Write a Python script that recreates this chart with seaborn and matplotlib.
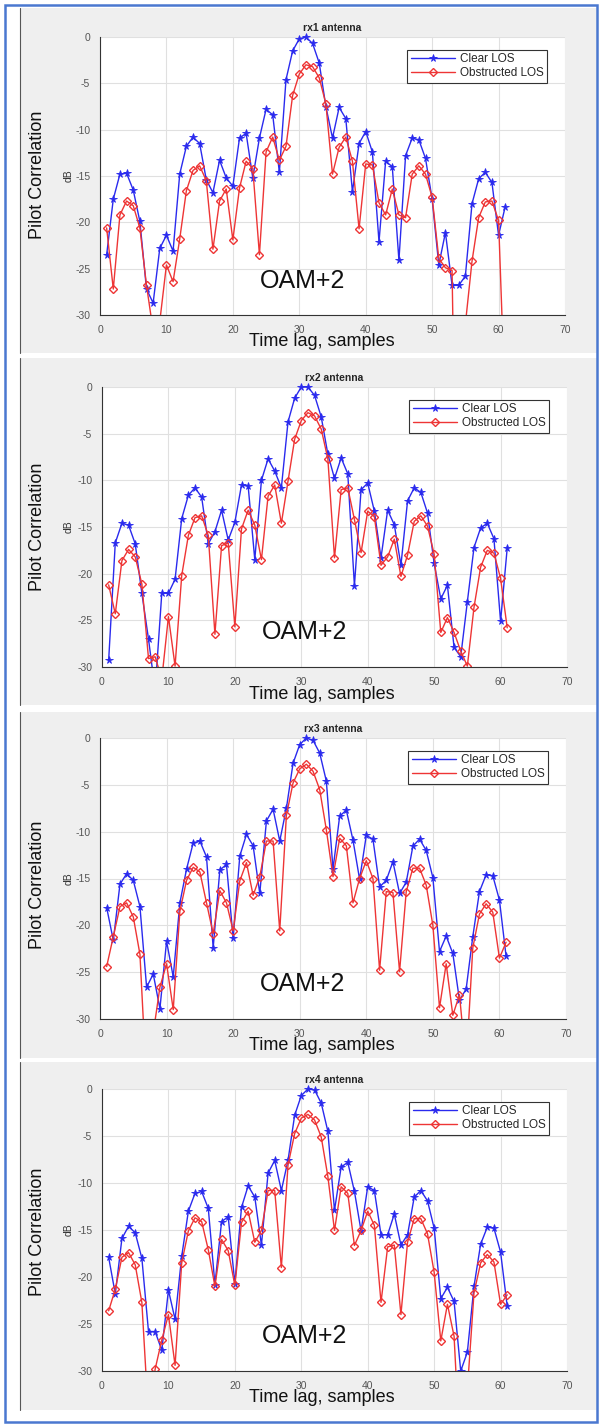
import matplotlib
matplotlib.use("Agg")
import matplotlib.pyplot as plt
from matplotlib.patches import Rectangle
from matplotlib.transforms import Bbox, TransformedBbox
import numpy as np
import pandas as pd
import seaborn as sns

# lag axis, 61 samples
lag = np.arange(1, 62)

antennas = ["rx1 antenna", "rx2 antenna", "rx3 antenna", "rx4 antenna"]
series_names = ["Clear LOS", "Obstructed LOS"]

clear_rx1 = [-23.5, -17.5, -14.8, -14.7, -16.5, -19.9, -27.2, -28.7, -22.8, -21.4,
             -23.1, -14.8, -11.8, -10.8, -11.5, -15.4, -16.8, -13.3, -15.2, -16.1,
             -10.9, -10.4, -15.2, -10.9, -7.8, -8.4, -14.6, -4.6, -1.5, -0.2,
             0.0, -0.7, -2.8, -7.5, -10.9, -7.6, -8.8, -16.7, -11.5, -10.2,
             -12.4, -22.1, -13.4, -14.0, -24.1, -12.8, -10.9, -11.1, -13.1, -17.5,
             -24.6, -21.1, -26.8, -26.8, -25.8, -18.0, -15.3, -14.6, -15.7, -21.4, -18.3]
obstr_rx1 = [-20.6, -27.2, -19.2, -17.7, -18.2, -20.6, -26.8, -31.7, -30.7, -24.6,
             -26.4, -21.8, -16.6, -14.4, -13.9, -15.5, -22.9, -17.7, -16.4, -21.9,
             -16.3, -13.4, -14.2, -23.5, -12.4, -10.8, -13.3, -11.8, -6.3, -4.0,
             -3.0, -3.2, -4.4, -7.2, -14.8, -11.9, -10.8, -13.4, -20.7, -13.7,
             -13.8, -17.9, -19.2, -16.4, -19.2, -19.5, -14.8, -13.9, -14.8, -17.3,
             -23.9, -24.9, -25.2, -70.0, -31.0, -24.2, -19.5, -17.8, -17.7, -19.8, -40.0]

clear_rx2 = [-29.3, -16.7, -14.6, -14.8, -16.8, -22.1, -27.0, -32.5, -22.1, -22.1,
             -20.6, -14.1, -11.6, -10.8, -11.8, -16.8, -15.5, -13.2, -16.4, -14.5,
             -10.5, -10.6, -18.5, -10.0, -7.7, -9.0, -10.8, -3.75, -1.2, 0.0,
             0.0, -0.9, -3.2, -7.2, -9.8, -7.6, -9.3, -21.3, -11.0, -10.3,
             -13.3, -18.3, -13.2, -14.75, -19.1, -12.2, -10.8, -11.3, -13.5, -18.9,
             -22.7, -21.25, -27.9, -28.9, -23.0, -17.2, -15.1, -14.6, -16.25, -25.1, -17.25]
obstr_rx2 = [-21.2, -24.3, -18.6, -17.4, -18.2, -21.1, -29.1, -28.9, -31.3, -24.6,
             -29.9, -20.2, -15.9, -14.0, -13.8, -15.9, -26.5, -17.0, -16.7, -25.7,
             -15.2, -13.2, -14.8, -18.5, -11.7, -10.5, -14.6, -10.1, -5.6, -3.6,
             -2.75, -3.1, -4.5, -7.7, -18.3, -11.0, -10.8, -14.2, -17.75, -13.3,
             -13.9, -19.1, -18.2, -16.3, -20.3, -18.0, -14.4, -13.8, -14.9, -17.9,
             -26.3, -24.7, -26.3, -28.3, -29.9, -23.6, -19.3, -17.5, -17.8, -20.5, -25.8]

clear_rx3 = [-18.1, -21.6, -15.6, -14.5, -15.2, -18.0, -26.6, -25.2, -28.9, -21.7,
             -25.5, -17.6, -14.0, -11.2, -11.0, -12.7, -22.4, -14.1, -13.5, -21.4,
             -12.6, -10.3, -11.5, -16.6, -8.85, -7.6, -11.0, -7.5, -2.7, -0.7,
             0.0, -0.25, -1.6, -4.6, -14.0, -8.35, -7.7, -10.9, -15.1, -10.4,
             -10.8, -15.9, -15.2, -13.2, -16.6, -15.4, -11.55, -10.8, -12.0, -14.9,
             -22.8, -21.15, -23.0, -28.0, -26.8, -21.2, -16.4, -14.6, -14.7, -17.3, -23.3]
obstr_rx3 = [-24.4, -21.2, -18.0, -17.6, -19.1, -23.1, -37.0, -31.5, -26.6, -24.1,
             -29.0, -18.5, -15.2, -13.8, -14.3, -17.6, -20.9, -16.3, -17.6, -20.6,
             -15.25, -13.3, -16.8, -14.8, -11.0, -11.0, -20.6, -8.25, -4.8, -3.3,
             -2.8, -3.55, -5.5, -9.8, -14.8, -10.7, -11.5, -17.6, -15.0, -13.1,
             -15.0, -24.8, -16.4, -16.5, -24.95, -16.4, -13.9, -13.9, -15.7, -20.0,
             -28.8, -24.1, -29.6, -27.4, -35.0, -22.4, -18.8, -17.7, -18.6, -23.5, -21.8]

clear_rx4 = [-17.9, -21.8, -15.9, -14.6, -15.3, -18.0, -25.8, -25.8, -27.8, -21.4,
             -24.5, -17.8, -13.0, -11.1, -10.9, -12.7, -20.8, -14.1, -13.6, -20.7,
             -12.6, -10.3, -11.5, -16.6, -8.95, -7.6, -10.8, -7.6, -2.8, -0.7,
             0.0, -0.1, -1.5, -4.5, -12.9, -8.3, -7.8, -10.9, -15.1, -10.4,
             -10.8, -15.5, -15.5, -13.3, -16.6, -15.5, -11.5, -10.8, -11.9, -14.8,
             -22.3, -21.1, -22.6, -30.0, -28.0, -21.0, -16.5, -14.7, -14.8, -17.35, -23.1]
obstr_rx4 = [-23.6, -21.3, -17.9, -17.4, -18.7, -22.7, -35.0, -29.8, -26.7, -24.0,
             -29.4, -18.5, -15.1, -13.7, -14.1, -17.1, -21.0, -16.0, -17.2, -20.9,
             -14.2, -13.0, -16.3, -15.05, -10.8, -10.8, -19.0, -8.1, -4.75, -3.1,
             -2.7, -3.3, -5.1, -9.3, -15.05, -10.4, -11.1, -16.65, -15.05, -13.0,
             -14.5, -22.7, -16.8, -16.6, -24.0, -16.3, -13.8, -13.8, -15.4, -19.5,
             -26.8, -22.9, -26.3, -40.0, -32.0, -21.7, -18.5, -17.6, -18.4, -22.9, -21.9]

clear_all = [clear_rx1, clear_rx2, clear_rx3, clear_rx4]
obstr_all = [obstr_rx1, obstr_rx2, obstr_rx3, obstr_rx4]

x_ticks = [0, 10, 20, 30, 40, 50, 60, 70]
y_ticks = [-30, -25, -20, -15, -10, -5, 0]

sns.set_theme(style="whitegrid")
plt.rcParams["font.family"] = ["Liberation Sans", "DejaVu Sans"]
plt.rcParams["axes.unicode_minus"] = False

W, H = 601, 1426
fig = plt.figure(figsize=(W / 100, H / 100), dpi=100)
fig.patch.set_facecolor("white")


def fx(px):
    return px / W


def fy(py):
    return 1 - py / H


# panel screenshot backgrounds (pixel rows)
panel_rows = [(8, 353), (358, 705), (712, 1058), (1062, 1410)]
for top, bot in panel_rows:
    fig.patches.append(Rectangle((fx(20), fy(bot)), fx(578), (bot - top) / H,
                                 transform=fig.transFigure, facecolor="#efefef",
                                 edgecolor="none", zorder=-2))
    fig.lines.append(plt.Line2D([fx(20), fx(20)], [fy(bot), fy(top)],
                                transform=fig.transFigure, color="#555555",
                                lw=0.8, zorder=-1))
fig.patches.append(Rectangle((fx(5), fy(1422)), fx(592), 1417 / H,
                             transform=fig.transFigure, facecolor="none",
                             edgecolor="#4a78d0", lw=1.8, zorder=5))

# axes boxes in pixels: left, top, right, bottom
boxes = [(100, 37, 565, 315), (102, 387, 567, 667),
         (100, 738, 566, 1019), (102, 1089, 567, 1371)]
ylab_centres = [175, 527, 885, 1232]

blue = "#2a2aee"
red = "#ee3535"

for i, (l, t, r, b) in enumerate(boxes):
    ax = fig.add_axes([fx(l), fy(b), (r - l) / W, (b - t) / H])
    ax.set_zorder(2)
    ax.set_facecolor("white")

    df = pd.DataFrame({"lag": lag, "clear": clear_all[i], "obstr": obstr_all[i]})
    sns.lineplot(data=df, x="lag", y="clear", ax=ax, color=blue, lw=1.0,
                 marker="*", markersize=5.5, markerfacecolor=blue,
                 markeredgecolor=blue, markeredgewidth=0.6,
                 label=series_names[0], errorbar=None)
    sns.lineplot(data=df, x="lag", y="obstr", ax=ax, color=red, lw=1.0,
                 marker="D", markersize=4.5, markerfacecolor="none",
                 markeredgecolor=red, markeredgewidth=1.0,
                 label=series_names[1], errorbar=None)

    # let markers at 0 dB show fully above the top edge
    clip = TransformedBbox(Bbox([[0, 0], [1, 1.03]]), ax.transAxes)
    for ln in ax.lines:
        ln.set_clip_box(clip)

    ax.set_xlim(0, 70)
    ax.set_ylim(-30, 0)
    ax.set_xticks(x_ticks)
    ax.set_yticks(y_ticks)
    ax.grid(True, color="#e0e0e0", lw=0.8)
    for s in ["top", "right"]:
        ax.spines[s].set_visible(False)
    for s in ["left", "bottom"]:
        ax.spines[s].set_visible(True)
        ax.spines[s].set_color("#333333")
        ax.spines[s].set_linewidth(0.8)
    ax.tick_params(direction="in", length=3, width=0.8, colors="#333333",
                   labelcolor="#555555", labelsize=7.5, pad=7)
    ax.set_xlabel("")
    ax.set_ylabel("")
    ax.set_title(antennas[i], fontsize=7.5, fontweight="bold", pad=4)

    ax.text(30.5, -26.3, "OAM+2", fontsize=18, ha="center", va="center",
            color="#111111")

    leg = ax.legend(loc="upper right", fontsize=8.5, frameon=True, fancybox=False,
                    handlelength=3.8, labelspacing=0.15, borderpad=0.3,
                    handletextpad=0.4, bbox_to_anchor=(0.975, 0.975))
    leg.get_frame().set_edgecolor("#333333")
    leg.get_frame().set_linewidth(0.8)
    leg.get_frame().set_facecolor("white")
    leg.get_frame().set_alpha(1)

    fig.text(fx(37), fy(ylab_centres[i]), "Pilot Correlation", rotation=90,
             fontsize=13, ha="center", va="center", color="#111111")
    fig.text(fx(69), fy((t + b) / 2), "dB", rotation=90, fontsize=7.5,
             ha="center", va="center", color="#333333")
    fig.text(fx(322), fy(b + 27), "Time lag, samples", fontsize=13,
             ha="center", va="center", color="#111111")

fig.savefig("out.png", dpi=100, facecolor=fig.get_facecolor())
